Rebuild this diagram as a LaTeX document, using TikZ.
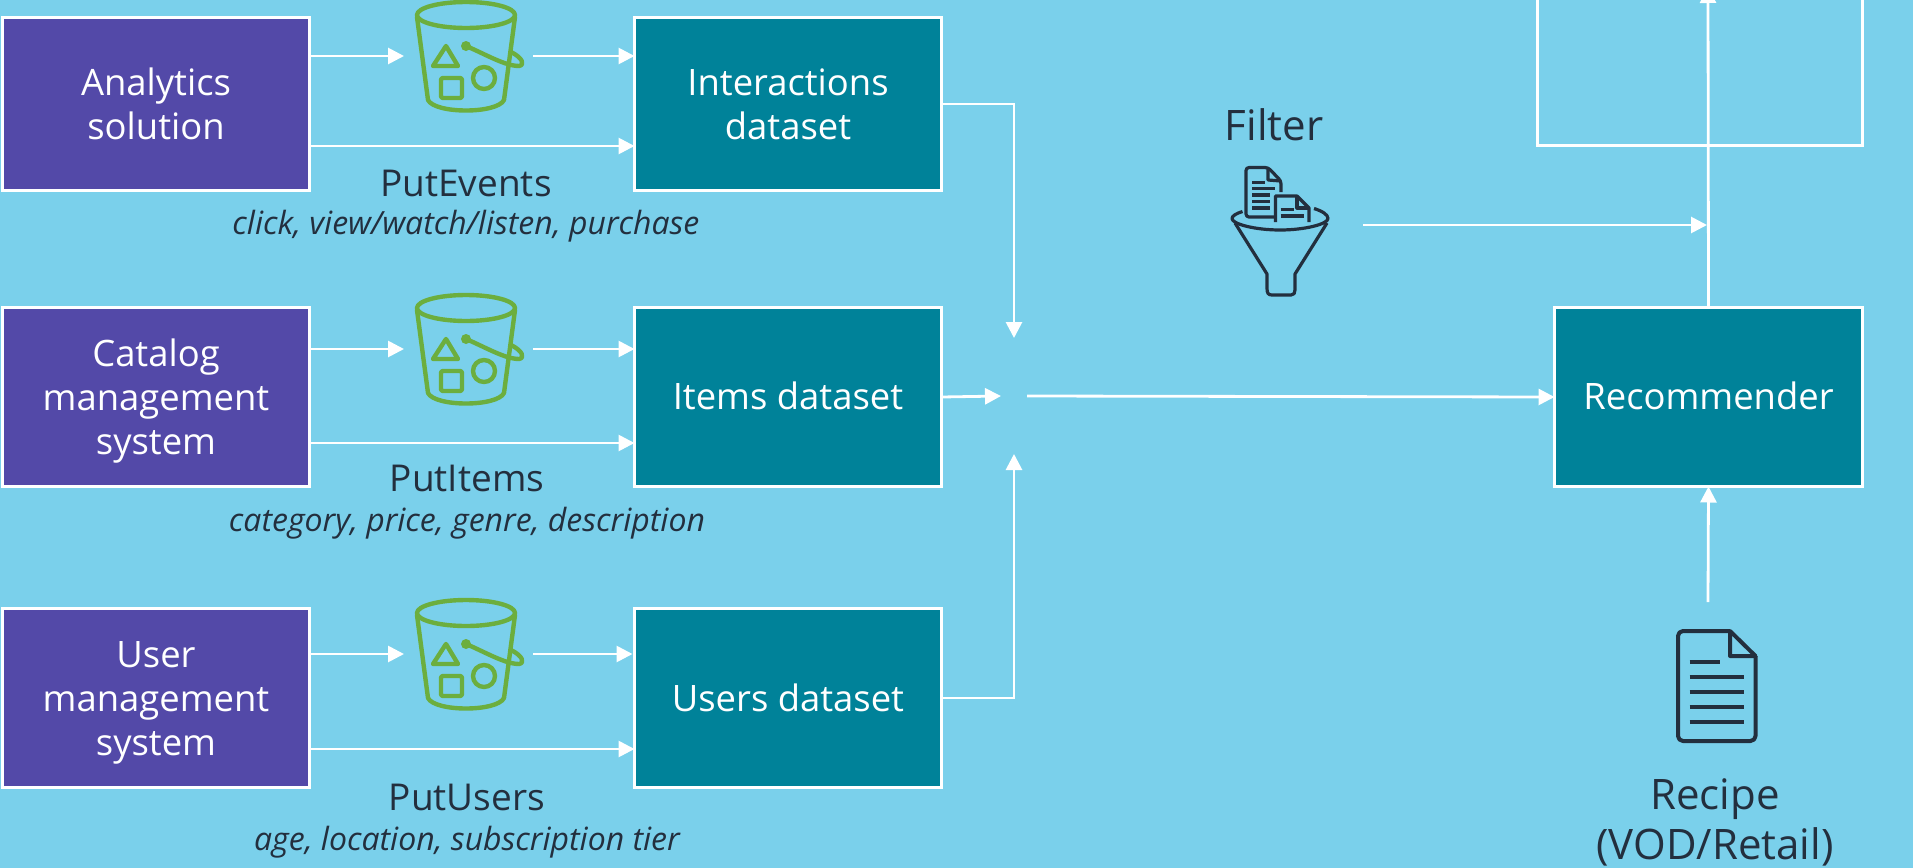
\documentclass[tikz,border=0pt]{standalone}
\usepackage{fontspec}
\setmainfont{Open Sans}
\usetikzlibrary{arrows.meta}
\definecolor{bgblue}{RGB}{122,208,235}
\definecolor{boxpurple}{RGB}{83,73,168}
\definecolor{boxteal}{RGB}{0,130,153}
\definecolor{inkdark}{RGB}{35,47,62}
\definecolor{bucketgreen}{RGB}{108,174,62}
\newcommand{\upstrut}{\rule{0pt}{18pt}}
\newcommand{\liftstrut}[1]{\rule[-#1]{0pt}{1pt}}
\tikzset{
  x=0.5pt,y=-0.5pt,
  basebox/.style={draw=white,line width=1.5pt,text=white,align=center,minimum width=153.5pt,minimum height=86.5pt,inner sep=0pt,outer sep=0pt,font=\fontsize{18.2}{22}\selectfont},
  tallbox/.style={minimum height=89.5pt},
  srcbox/.style={basebox,fill=boxpurple},
  databox/.style={basebox,fill=boxteal},
  iconslot/.style={minimum width=64.5pt,minimum height=56pt,inner sep=0pt,outer sep=0pt},
  apilabel/.style={text=inkdark,inner sep=0pt,anchor=base,font=\fontsize{18.5}{22.5}\selectfont},
  attrlabel/.style={text=inkdark,inner sep=0pt,anchor=base,font=\fontsize{16}{19}\itshape\selectfont},
  biglabel/.style={text=inkdark,inner sep=0pt,align=center,font=\fontsize{21}{25}\selectfont},
  filterlabel/.style={text=inkdark,inner sep=0pt,anchor=base,font=\fontsize{21}{25}\selectfont},
  flow/.style={draw=white,line width=1.4pt,-{Triangle[length=8pt,width=8pt]}},
  pics/bucketicon/.style={code={
    \begin{scope}[draw=bucketgreen,line width=2.2pt,line join=round,line cap=round]
      \draw (466,15) ellipse [x radius=49,y radius=13];
      \draw (417,17) -- (428,100) .. controls (435,114) and (497,114) .. (504,100) -- (515,17);
      \draw (446,46) -- (433,66) -- (458,66) -- cycle;
      \draw[rounded corners=1pt] (441,78) rectangle (462,98);
      \draw (484,78) circle [radius=11];
      \fill[bucketgreen] (466,46) circle [radius=5];
      \draw (466,46) .. controls (485,54) and (505,66) .. (519,66) .. controls (525,65) and (523,58) .. (511,52);
    \end{scope}
  }},
}
\begin{document}
\begin{tikzpicture}
\useasboundingbox (0,0) rectangle (1913,868);
\clip (0,0) rectangle (1913,868);
\fill[bgblue] (0,0) rectangle (1913,868);

% boxes
\node[srcbox] (analytics) at (156,104) {Analytics\\solution};
\node[srcbox,tallbox] (catalog) at (156,397) {\upstrut Catalog\\management\\system};
\node[srcbox,tallbox] (usermgmt) at (156,698) {\upstrut User\\management\\system};
\node[databox] (interactions) at (788,104) {Interactions\\dataset};
\node[databox,tallbox] (items) at (788,397) {Items dataset\liftstrut{1pt}};
\node[databox,tallbox] (users) at (788,698) {Users dataset};
\node[databox,tallbox,minimum width=154pt] (recommender) at (1708.5,397) {Recommender\liftstrut{1pt}};
\node[draw=white,line width=1.5pt,minimum width=162.5pt,minimum height=100pt,inner sep=0pt,outer sep=0pt] (output) at (1699.5,45) {};

% icon slots
\node[iconslot] (bucketa) at (468.5,56) {};
\node[iconslot] (bucketb) at (468.5,349) {};
\node[iconslot] (bucketc) at (468.5,654) {};
\node[minimum width=20pt,minimum height=60pt,inner sep=0pt,outer sep=0pt] (recipeicon) at (1708,662) {};
\pic at (0,0) {bucketicon};
\pic at (0,293) {bucketicon};
\pic at (0,598) {bucketicon};

% filter icon
\begin{scope}[draw=inkdark,line width=1.6pt,line join=round,line cap=butt]
  \draw (1242.5,211.5) .. controls (1236,213.5) and (1232,216) .. (1232,218.5) .. controls (1232,224) and (1255,230) .. (1280,230) .. controls (1305,230) and (1328,224) .. (1328,218.5) .. controls (1328,214.5) and (1322,211) .. (1314,208.5);
  \draw (1235,223) -- (1267,274) -- (1267,288) .. controls (1267,293) and (1268,295) .. (1272,295) -- (1291,295) .. controls (1294,295) and (1295,293) .. (1295,290) -- (1295,274) -- (1327,223);
  \draw[rounded corners=1.5pt] (1274.5,217) -- (1246,217) -- (1246,167.5) -- (1268,167.5) -- (1281,181) -- (1281,192);
  \draw (1268,167.5) -- (1268,180) -- (1281,181);
  \foreach \yy/\xx in {182.5/1265,188.5/1275,195/1270,201.5/1270,208/1270}{\draw (1252,\yy) -- (\xx,\yy);}
  \draw (1275.5,222) -- (1275.5,196) -- (1297,196) -- (1309,208) -- (1309,222);
  \draw (1297,196) -- (1297,208) -- (1309,208);
  \draw (1280.5,209.5) -- (1294,209.5);
  \draw (1280.5,216) -- (1304,216);
\end{scope}

% recipe icon
\begin{scope}[draw=inkdark,line width=2pt,line join=round,line cap=butt]
  \draw[rounded corners=2.5pt] (1730,631) -- (1678,631) -- (1678,741) -- (1755.5,741) -- (1755.5,656);
  \draw (1730,631) -- (1755.5,656) -- (1730,656) -- cycle;
  \draw (1689.5,662) -- (1720,662);
  \foreach \yy in {677,692,707,722}{\draw (1689.5,\yy) -- (1743.5,\yy);}
\end{scope}

% junction coordinates
\coordinate (joinnorth) at (1014,338);
\coordinate (joinsouth) at (1014,454);
\coordinate (joinwest) at (1001,396);
\coordinate (joineast) at (1027,396);
\coordinate (rowalow) at (0,146);
\coordinate (rowblow) at (0,443);
\coordinate (rowclow) at (0,749);
\coordinate (filterstart) at (1363,225);
\coordinate (filterstop) at (1707,225);
\coordinate (outtip) at (1708,-13);

% connectors
\draw[flow] (analytics.east |- bucketa) -- (bucketa.west);
\draw[flow] (bucketa.east) -- (interactions.west |- bucketa);
\draw[flow] (analytics.east |- rowalow) -- (interactions.west |- rowalow);
\draw[flow] (catalog.east |- bucketb) -- (bucketb.west);
\draw[flow] (bucketb.east) -- (items.west |- bucketb);
\draw[flow] (catalog.east |- rowblow) -- (items.west |- rowblow);
\draw[flow] (usermgmt.east |- bucketc) -- (bucketc.west);
\draw[flow,shorten >=1pt] (bucketc.east) -- (users.west |- bucketc);
\draw[flow] (usermgmt.east |- rowclow) -- (users.west |- rowclow);
\draw[flow] (interactions.east) -| (joinnorth);
\draw[flow] (users.east) -| (joinsouth);
\draw[flow] (items.east) -- (joinwest);
\draw[flow] (joineast) -- (recommender.west);
\draw[flow] (filterstart) -- (filterstop);
\draw[flow] (recommender.north) -- (outtip);
\draw[flow] (recipeicon.north) -- (recommender.south);

% labels
\node[apilabel] (lblevents) at (466,196.5) {PutEvents};
\node[attrlabel] (attrevents) at (466,234.5) {click, view/watch/listen, purchase};
\node[apilabel] (lblitems) at (467,491.5) {PutItems};
\node[attrlabel] (attritems) at (467,531.5) {category, price, genre, description};
\node[apilabel] (lblusers) at (467,810.5) {PutUsers};
\node[attrlabel] (attrusers) at (467,850) {age, location, subscription tier};
\node[filterlabel] (lblfilter) at (1274,140) {Filter};
\node[biglabel] (lblrecipe) at (1715,822) {Recipe\\(VOD/Retail)};
\end{tikzpicture}
\end{document}
